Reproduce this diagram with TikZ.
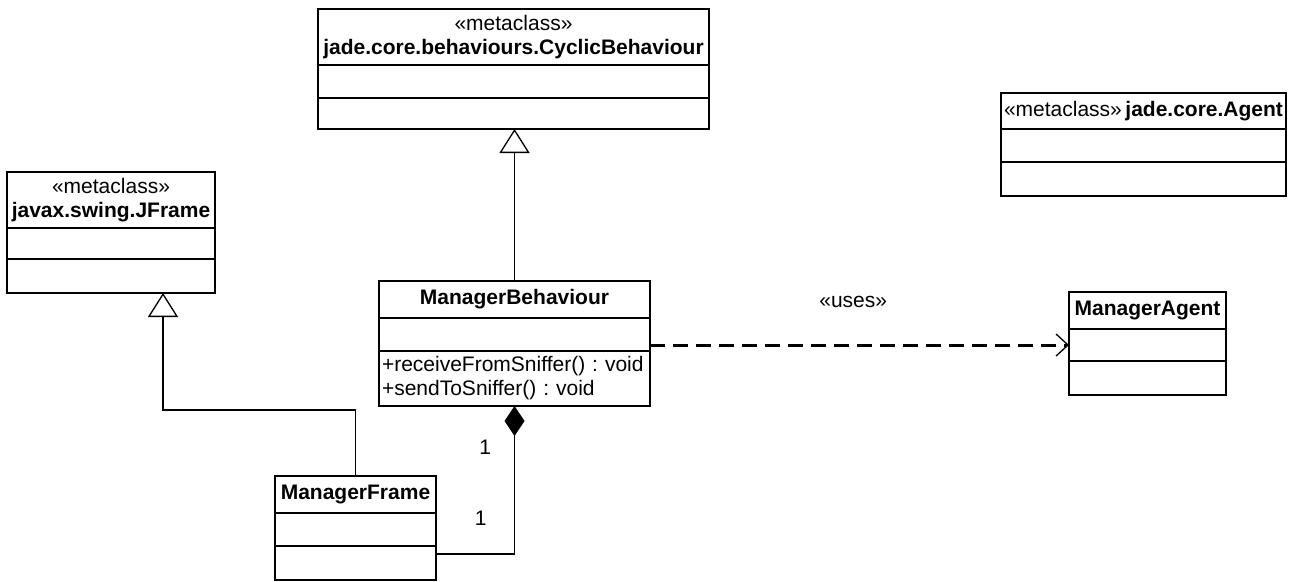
\documentclass[tikz,border=0pt]{standalone}
\usepackage{fontspec}
\setmainfont{Liberation Sans}
\usetikzlibrary{arrows.meta,positioning}

\begin{document}
\frenchspacing
\begin{tikzpicture}[x=1pt,y=-1pt,
	every node/.style={font=\fontsize{21}{24}\selectfont},
	box/.style={draw,line width=2pt,outer sep=0pt,inner sep=1pt,align=center},
	gen/.style={line width=1.3pt,-{Triangle[open,length=24pt,width=30pt,line width=1.3pt]}},
	comp/.style={line width=1.3pt,-{Diamond[length=30pt,width=20pt]}},
	dep/.style={line width=3pt,dash pattern=on 15pt off 8pt,-{Straight Barb[length=12pt,width=22pt,line width=1.3pt]}}]
	\useasboundingbox (0,0) rectangle (1300,581);

	\node[box,minimum width=391pt,minimum height=56pt] (cyc) at (513.5,37) {«metaclass»\\\textbf{jade.core.behaviours.CyclicBehaviour}};
	\node[box,minimum width=391pt,minimum height=33pt,below=0pt of cyc] (cyc2) {};
	\node[box,minimum width=391pt,minimum height=31pt,below=0pt of cyc2] (cyc3) {};

	\node[box,minimum width=208pt,minimum height=56pt] (jfr) at (111,200) {«metaclass»\\\textbf{javax.swing.JFrame}};
	\node[box,minimum width=208pt,minimum height=31pt,below=0pt of jfr] (jfr2) {};
	\node[box,minimum width=208pt,minimum height=34pt,below=0pt of jfr2] (jfr3) {};

	\node[box,minimum width=285pt,minimum height=36pt] (agt) at (1143.5,111) {«metaclass»\,\textbf{jade.core.Agent}};
	\node[box,minimum width=285pt,minimum height=33pt,below=0pt of agt] (agt2) {};
	\node[box,minimum width=285pt,minimum height=34pt,below=0pt of agt2] (agt3) {};

	\node[box,minimum width=271pt,minimum height=37pt] (beh) at (514.5,299.5) {\textbf{ManagerBehaviour}};
	\node[box,minimum width=271pt,minimum height=33pt,below=0pt of beh] (beh2) {};
	\node[box,minimum width=271pt,minimum height=55pt,inner sep=2pt,text width=265pt,align=left,below=0pt of beh2] (beh3) {+receiveFromSniffer() : void\\+sendToSniffer() : void};

	\node[box,minimum width=157pt,minimum height=37pt] (mag) at (1147.5,310.5) {\textbf{ManagerAgent}};
	\node[box,minimum width=157pt,minimum height=32pt,below=0pt of mag] (mag2) {};
	\node[box,minimum width=157pt,minimum height=34pt,below=0pt of mag2] (mag3) {};

	\node[box,minimum width=161pt,minimum height=37pt] (frm) at (355.5,494.5) {\textbf{ManagerFrame}};
	\node[box,minimum width=161pt,minimum height=33pt,below=0pt of frm] (frm2) {};
	\node[box,minimum width=161pt,minimum height=34pt,below=0pt of frm2] (frm3) {};

	\coordinate (bend) at (163,410);
	\draw[gen] (beh.north) -- (beh.north |- cyc3.south);
	\draw[gen] (frm.north) |- (bend) -- (bend |- jfr3.south);
	\draw[comp] ([yshift=9pt]frm3.east) -| (beh3.south)
		node[pos=0.62,left=24pt] (m1) {1}
		node[pos=0.86,left=19.5pt] (m2) {1};
	\draw[dep] (beh2.east |- mag2.west) -- (mag2.west)
		node[pos=0.485,above=32pt] (uses) {«uses»};
\end{tikzpicture}
\end{document}
